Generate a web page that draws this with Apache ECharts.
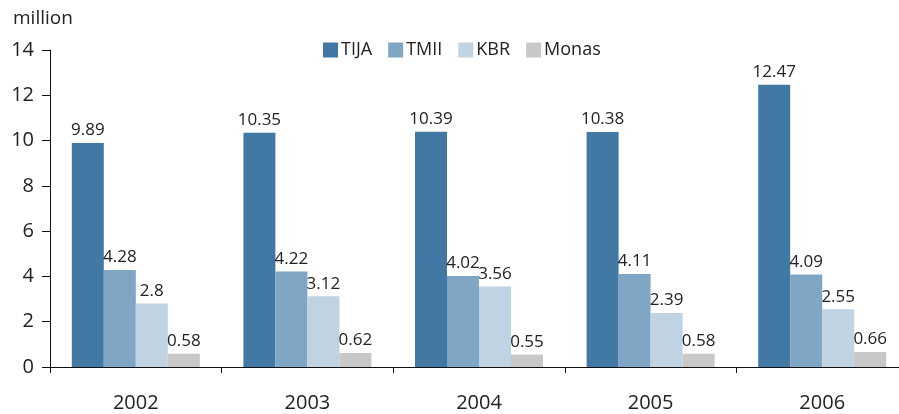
<!DOCTYPE html>
<html>
<head>
<meta charset="utf-8">
<script src="https://cdn.jsdelivr.net/npm/echarts@6/dist/echarts.min.js"></script>
<style>
html,body{margin:0;padding:0;background:#fff;overflow:hidden}
#chart{width:912px;height:414px}
</style>
</head>
<body>
<div id="chart"></div>
<script>
var years = ['2002', '2003', '2004', '2005', '2006']
var tija = [9.89, 10.35, 10.39, 10.38, 12.47]
var tmii = [4.28, 4.22, 4.02, 4.11, 4.09]
var kbr = [2.8, 3.12, 3.56, 2.39, 2.55]
var monas = [0.58, 0.62, 0.55, 0.58, 0.66]

var font = '"Open Sans", "Noto Sans", sans-serif'

function bar(name, data, color) {
    return {
        name: name,
        type: 'bar',
        data: data,
        barWidth: 32,
        barGap: 0,
        itemStyle: {color: color},
        label: {
            show: true,
            position: 'top',
            distance: 4,
            color: '#222',
            fontSize: 17,
            fontFamily: font
        }
    }
}

// the plot runs a little past the right edge of the window, as in the original
var myChart = echarts.init(document.getElementById('chart'))
myChart.setOption({
    animation: false,
    textStyle: {fontFamily: font},
    title: {
        text: 'million',
        left: 8,
        top: 4,
        textStyle: {fontSize: 19, fontWeight: 'normal', color: '#222', fontFamily: font}
    },
    legend: {
        top: 36,
        left: 318,
        itemWidth: 15,
        itemHeight: 15,
        itemGap: 16,
        icon: 'rect',
        textStyle: {fontSize: 18, color: '#222', fontFamily: font, padding: [0, 0, 0, -2]}
    },
    grid: {left: 50, width: 858, top: 50, bottom: 47},
    xAxis: {
        type: 'category',
        data: years,
        axisLine: {lineStyle: {color: '#111', width: 1}},
        axisTick: {show: true, length: 6, lineStyle: {color: '#111'}},
        axisLabel: {fontSize: 20, color: '#222', margin: 26, fontFamily: font}
    },
    yAxis: {
        type: 'value',
        min: 0,
        max: 14,
        interval: 2,
        splitLine: {show: false},
        axisLine: {show: true, lineStyle: {color: '#111', width: 1}},
        axisTick: {show: true, length: 8, lineStyle: {color: '#111'}},
        axisLabel: {fontSize: 20, color: '#222', margin: 16, fontFamily: font}
    },
    series: [
        bar('TIJA', tija, '#4178a4'),
        bar('TMII', tmii, '#7fa6c5'),
        bar('KBR', kbr, '#bfd3e3'),
        bar('Monas', monas, '#c8c8c9')
    ]
})
</script>
</body>
</html>
